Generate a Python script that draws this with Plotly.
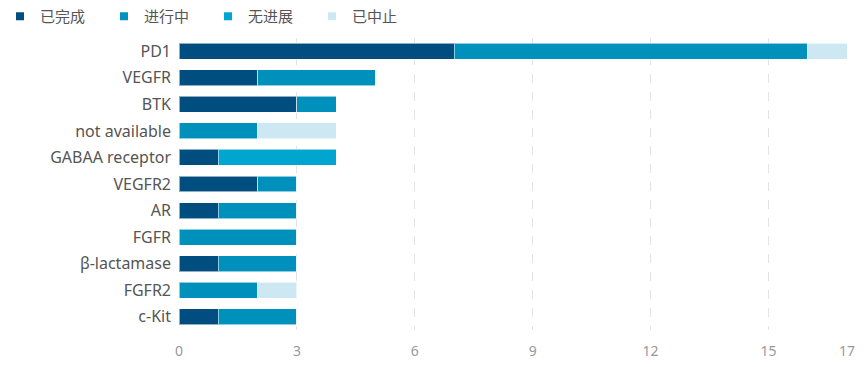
import plotly.graph_objects as go

categories = ["PD1", "VEGFR", "BTK", "not available", "GABAA receptor", "VEGFR2",
              "AR", "FGFR", "β-lactamase", "FGFR2", "c-Kit"]
series_names = ["已完成", "进行中", "无进展", "已中止"]
completed = [7, 2, 3, 0, 1, 2, 1, 0, 1, 0, 1]
ongoing = [9, 3, 1, 2, 0, 1, 2, 3, 2, 2, 2]
no_progress = [0, 0, 0, 0, 3, 0, 0, 0, 0, 0, 0]
terminated = [1, 0, 0, 2, 0, 0, 0, 0, 0, 1, 0]
x_ticks = [0, 3, 6, 9, 12, 15, 17]

colors = ["#004E80", "#0090BC", "#00A5D0", "#CDE8F2"]
values = [completed, ongoing, no_progress, terminated]

fig = go.Figure()
for name, vals, col in zip(series_names, values, colors):
    fig.add_trace(go.Bar(
        y=categories, x=vals, name=name, orientation="h", showlegend=False,
        legendgroup=name,
        marker=dict(color=col, line=dict(color="rgba(255,255,255,0.55)", width=1)),
    ))
# legend entries with small square markers
for name, col in zip(series_names, colors):
    fig.add_trace(go.Scatter(
        x=[None], y=[None], mode="markers", name=name, legendgroup=name,
        marker=dict(symbol="square", size=8, color=col), showlegend=True,
    ))

font_fam = "Noto Sans, Noto Sans CJK SC, sans-serif"
fig.update_layout(
    barmode="stack",
    bargap=0.4,
    width=865, height=367,
    margin=dict(l=179, r=18, t=38, b=37, autoexpand=False),
    plot_bgcolor="white", paper_bgcolor="white",
    font=dict(family=font_fam, size=15, color="#555"),
    legend=dict(orientation="h", xref="container", yref="container",
                x=-0.0105, y=1.0, xanchor="left", yanchor="top",
                entrywidth=59, entrywidthmode="pixels",
                font=dict(size=15, color="#555"), traceorder="normal"),
    xaxis=dict(range=[0, 17], tickvals=x_ticks, showgrid=True,
               gridcolor="#E3E3E3", griddash="dash", gridwidth=1,
               zeroline=False, showline=False,
               tickfont=dict(size=14, color="#999"), ticks="", ticklabelstandoff=11),
    yaxis=dict(categoryorder="array", categoryarray=categories, autorange="reversed",
               showgrid=False, zeroline=False, showline=False, ticks="",
               tickfont=dict(size=16, color="#555"), ticklabelstandoff=7),
)
fig.write_html("out.html", config={"displayModeBar": False},
               post_script="document.body.style.margin='0';")
